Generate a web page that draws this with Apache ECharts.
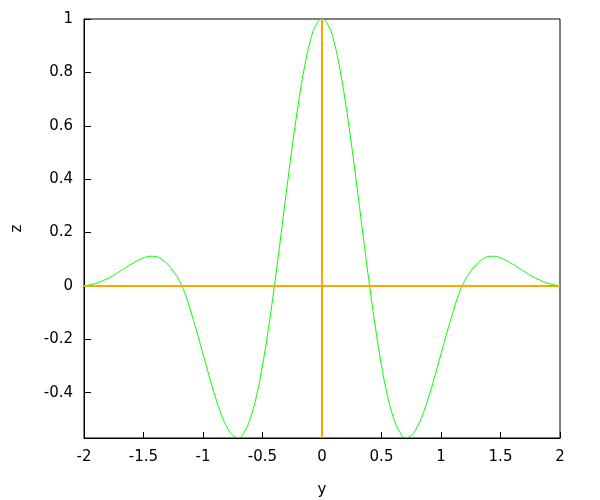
<!DOCTYPE html>
<html>
<head>
<meta charset="utf-8">
<script src="https://cdn.jsdelivr.net/npm/echarts@6/dist/echarts.min.js"></script>
<style>html,body{margin:0;padding:0;background:#fff}#c{width:600px;height:500px}</style>
</head>
<body>
<div id="c"></div>
<script>
// y positions (right half, 0 .. 2) and z values
var yRight = [0,0.05,0.1,0.15,0.2,0.25,0.3,0.35,0.4,0.45,0.5,0.55,0.6,0.65,0.7,0.75,0.8,0.85,0.9,0.95,1.0,1.05,1.1,1.15,1.2,1.25,1.3,1.35,1.4,1.45,1.5,1.55,1.6,1.65,1.7,1.75,1.8,1.85,1.9,1.95,2.0];
var zRight = [1.000,0.978,0.915,0.813,0.679,0.522,0.350,0.173,0.000,-0.159,-0.298,-0.411,-0.493,-0.545,-0.568,-0.560,-0.528,-0.477,-0.411,-0.335,-0.255,-0.175,-0.100,-0.030,0.020,0.055,0.082,0.100,0.110,0.111,0.105,0.095,0.082,0.068,0.054,0.040,0.028,0.018,0.010,0.004,0.000];
var xTickLabels = ['-2','-1.5','-1','-0.5','0','0.5','1','1.5','2'];
var zTickValues = [-0.4,-0.2,0,0.2,0.4,0.6,0.8,1];
var zMin = -0.57, zMax = 1;

var points = [];
for (var i = yRight.length - 1; i > 0; i--) points.push([-yRight[i], zRight[i]]);
for (var j = 0; j < yRight.length; j++) points.push([yRight[j], zRight[j]]);

var font = 'DejaVu Sans';
var chart = echarts.init(document.getElementById('c'), null, {renderer: 'canvas'});
chart.setOption({
  animation: false,
  backgroundColor: '#fff',
  grid: {left: 84, right: 40, top: 19, bottom: 62, outerBoundsMode: 'none', containLabel: false,
    show: true, borderColor: '#000', borderWidth: 1, backgroundColor: 'transparent'},
  xAxis: {
    type: 'value', min: -2, max: 2, interval: 0.5,
    name: 'y', nameLocation: 'middle', nameGap: 45,
    nameTextStyle: {fontFamily: font, fontSize: 15, color: '#000'},
    axisLine: {show: true, onZero: false, lineStyle: {color: '#000', width: 1}},
    axisTick: {show: true, inside: true, length: 6, lineStyle: {color: '#000'}},
    axisLabel: {fontFamily: font, fontSize: 15, color: '#000', margin: 12,
      formatter: function (v) { var k = Math.round((v + 2) * 2); return xTickLabels[k]; }},
    splitLine: {show: false}
  },
  yAxis: {
    type: 'value', min: zMin, max: zMax,
    name: 'z', nameLocation: 'middle', nameGap: 59, nameRotate: 90,
    nameTextStyle: {fontFamily: font, fontSize: 15, color: '#000'},
    axisLine: {show: true, onZero: false, lineStyle: {color: '#000', width: 1}},
    axisTick: {show: true, inside: true, length: 7, customValues: zTickValues, lineStyle: {color: '#000'}},
    axisLabel: {fontFamily: font, fontSize: 15, color: '#000', margin: 11, customValues: zTickValues,
      formatter: function (v) { return String(Math.round(v * 10) / 10); }},
    splitLine: {show: false}
  },
  series: [
    {
      type: 'line', data: [], z: 1, silent: true,
      markLine: {
        silent: true, symbol: 'none', animation: false,
        label: {show: false},
        lineStyle: {color: '#ffa500', width: 2, type: 'solid'},
        data: [{xAxis: 0}, {yAxis: 0}]
      }
    },
    {
      type: 'line', data: points, z: 3, showSymbol: false, smooth: true,
      lineStyle: {color: '#00ff00', width: 1}, silent: true
    }
  ]
});
</script>
</body>
</html>
